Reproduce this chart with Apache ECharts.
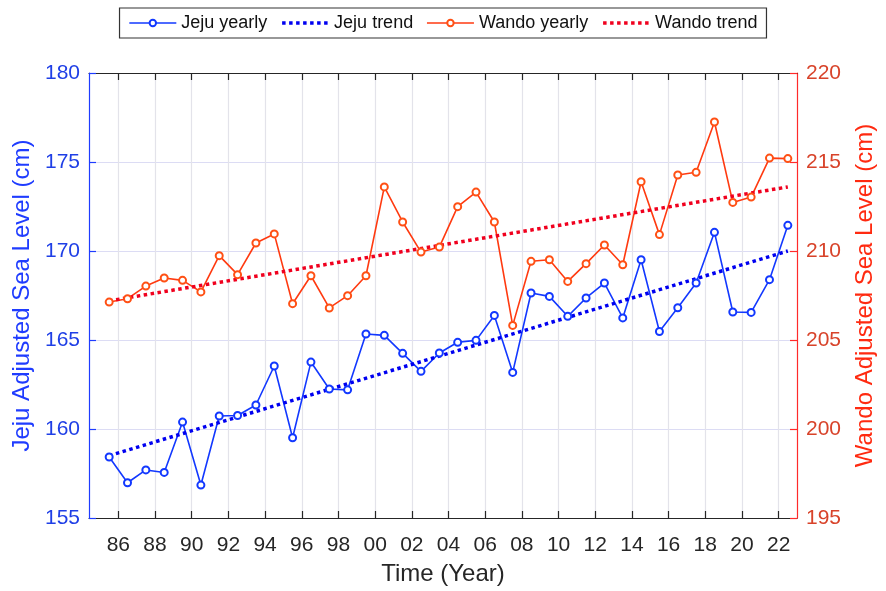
<!DOCTYPE html>
<html><head><meta charset="utf-8">
<script src="https://cdn.jsdelivr.net/npm/echarts@6/dist/echarts.min.js"></script>
<style>html,body{margin:0;padding:0;background:#fff}#c{width:886px;height:591px}</style>
</head><body><div id="c"></div>
<script>
const years = [1985,1986,1987,1988,1989,1990,1991,1992,1993,1994,1995,1996,1997,1998,1999,2000,2001,2002,2003,2004,2005,2006,2007,2008,2009,2010,2011,2012,2013,2014,2015,2016,2017,2018,2019,2020,2021,2022];
const jejuYearly = [158.43,156.98,157.70,157.56,160.39,156.85,160.73,160.76,161.35,163.54,
  159.51,163.76,162.25,162.2,165.34,165.26,164.25,163.24,164.27,164.87,
  164.98,166.38,163.18,167.64,167.45,166.33,167.36,168.20,166.24,169.51,
  165.48,166.81,168.2,171.05,166.57,166.55,168.39,171.44];
const wandoYearly = [207.13,207.32,208.03,208.48,208.35,207.70,209.74,208.67,210.45,210.96,
  207.04,208.61,206.8,207.49,208.61,213.60,211.63,209.94,210.22,212.49,
  213.31,211.63,205.82,209.42,209.51,208.29,209.29,210.34,209.23,213.89,
  210.92,214.27,214.42,217.25,212.73,213.03,215.22,215.19];
const jejuTrend = [158.5, 170.0];   // fitted values at first and last year
const wandoTrend = [207.2, 213.6];
const xTicks = [1986,1988,1990,1992,1994,1996,1998,2000,2002,2004,2006,2008,2010,2012,2014,2016,2018,2020,2022];

const FONT = 'Liberation Sans, Arial, Helvetica, sans-serif';
const BLUE = '#1238ff', BLUE_T = '#0000f0', RED = '#ff3a10', RED_T = '#f0001e';
const AX_BLUE = '#1f3cff', AX_RED = '#ff2a2a';
const mid = y => y + 0.5;
const xMin = 1984.4, xMax = 2023.0;

const jejuData = years.map((y, i) => [mid(y), jejuYearly[i]]);
const wandoData = years.map((y, i) => [mid(y), wandoYearly[i]]);
const last = years.length - 1;
const jejuTrendData = [[mid(years[0]), jejuTrend[0]], [mid(years[last]), jejuTrend[1]]];
const wandoTrendData = [[mid(years[0]), wandoTrend[0]], [mid(years[last]), wandoTrend[1]]];

const chart = echarts.init(document.getElementById('c'));
const option = {
  animation: false,
  backgroundColor: '#fff',
  textStyle: { fontFamily: FONT },
  grid: { left: 89, right: 89, top: 73, bottom: 72, show: false },
  legend: {
    top: 8, left: 'center',
    padding: [6, 9],
    borderColor: '#333', borderWidth: 1.2, backgroundColor: '#fff',
    itemWidth: 47, itemHeight: 8, itemGap: 13,
    textStyle: { fontSize: 18, color: '#111', fontFamily: FONT },
    data: [
      { name: 'Jeju yearly', lineStyle: { width: 1.6 } },
      { name: 'Jeju trend', itemStyle: { opacity: 0 }, lineStyle: { width: 3.5, type: [3.5, 3.5] } },
      { name: 'Wando yearly', lineStyle: { width: 1.6 } },
      { name: 'Wando trend', itemStyle: { opacity: 0 }, lineStyle: { width: 3.5, type: [3.5, 3.5] } }
    ]
  },
  xAxis: [{
    type: 'value', min: xMin, max: xMax, position: 'bottom',
    axisLine: { show: true, lineStyle: { color: '#262626', width: 1.2 } },
    axisTick: { show: true, inside: true, length: 7, customValues: xTicks, lineStyle: { color: '#262626', width: 1.2 } },
    axisLabel: { customValues: xTicks, fontSize: 21, color: '#262626', margin: 17,
      formatter: v => String(Math.round(v) % 100).padStart(2, '0') },
    splitLine: { show: true, lineStyle: { color: '#e3e3ea', width: 1.2 } },
    name: 'Time (Year)', nameLocation: 'middle', nameGap: 44,
    nameTextStyle: { fontSize: 24, color: '#262626' }
  }, {
    type: 'value', min: xMin, max: xMax, position: 'top',
    axisLine: { show: true, lineStyle: { color: '#262626', width: 1.2 } },
    axisTick: { show: true, inside: true, length: 7, customValues: xTicks, lineStyle: { color: '#262626', width: 1.2 } },
    axisLabel: { show: false },
    splitLine: { show: false }
  }],
  yAxis: [{
    type: 'value', min: 155, max: 180, interval: 5, position: 'left',
    axisLine: { show: true, lineStyle: { color: AX_BLUE, width: 1.2 } },
    axisTick: { show: true, inside: true, length: 7, lineStyle: { color: AX_BLUE, width: 1.2 } },
    axisLabel: { fontSize: 21, color: '#1f3fe6', margin: 9 },
    splitLine: { show: true, lineStyle: { color: '#dcdcf4', width: 1.2 } },
    name: 'Jeju Adjusted Sea Level (cm)', nameLocation: 'middle', nameGap: 50, nameRotate: 90,
    nameTextStyle: { fontSize: 24, color: AX_BLUE }
  }, {
    type: 'value', min: 195, max: 220, interval: 5, position: 'right',
    axisLine: { show: true, lineStyle: { color: AX_RED, width: 1.2 } },
    axisTick: { show: true, inside: true, length: 7, lineStyle: { color: AX_RED, width: 1.2 } },
    axisLabel: { fontSize: 21, color: '#d8432a', margin: 9 },
    splitLine: { show: false },
    name: 'Wando Adjusted Sea Level (cm)', nameLocation: 'middle', nameGap: 56, nameRotate: 90,
    nameTextStyle: { fontSize: 24, color: '#ff2a10' }
  }],
  series: [{
    name: 'Jeju yearly', type: 'line', xAxisIndex: 0, yAxisIndex: 0, data: jejuData,
    symbol: 'emptyCircle', symbolSize: 7,
    lineStyle: { color: BLUE, width: 1.6 },
    itemStyle: { color: BLUE, borderWidth: 1.5 }
  }, {
    name: 'Jeju trend', type: 'line', xAxisIndex: 0, yAxisIndex: 0, data: jejuTrendData,
    symbol: 'none',
    lineStyle: { color: BLUE_T, width: 3.5, type: [3.5, 3.5] },
    itemStyle: { color: BLUE_T }
  }, {
    name: 'Wando yearly', type: 'line', xAxisIndex: 0, yAxisIndex: 1, data: wandoData,
    symbol: 'emptyCircle', symbolSize: 7,
    lineStyle: { color: RED, width: 1.6 },
    itemStyle: { color: '#ff5014', borderWidth: 1.5 }
  }, {
    name: 'Wando trend', type: 'line', xAxisIndex: 0, yAxisIndex: 1, data: wandoTrendData,
    symbol: 'none',
    lineStyle: { color: RED_T, width: 3.5, type: [3.5, 3.5] },
    itemStyle: { color: RED_T }
  }]
};
chart.setOption(option);
</script>
</body></html>
